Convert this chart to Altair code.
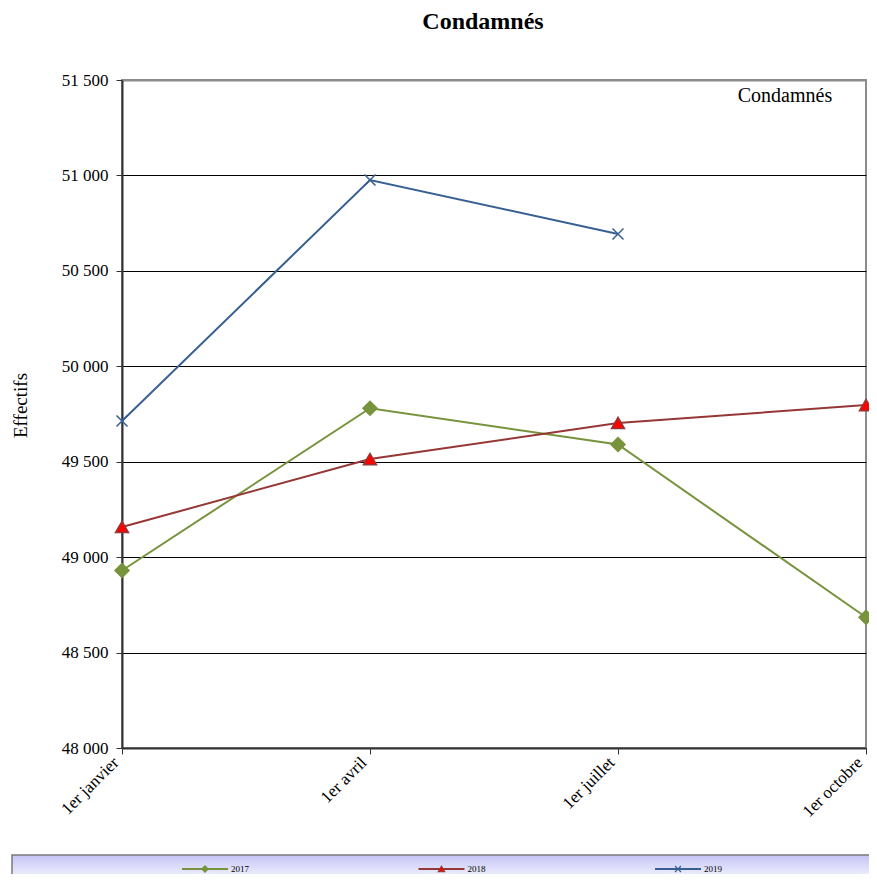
import altair as alt
import pandas as pd

months = ["1er janvier", "1er avril", "1er juillet", "1er octobre"]
years = ["2017", "2018", "2019"]
v2017 = [48930, 49780, 49590, 48685]
v2018 = [49158, 49514, 49703, 49797]
v2019 = [49713, 50976, 50693, None]
y_ticks = [48000, 48500, 49000, 49500, 50000, 50500, 51000, 51500]

line_colors = ["#77933c", "#953735", "#376092"]
fill_colors = ["#77933c", "#ff0000", "transparent"]
shapes = ["diamond", "triangle-up", "M-1,-1L1,1M-1,1L1,-1"]
sizes = [196, 169, 121]
legend_sizes = [40, 40, 36]

rows = []
for yr, vals in zip(years, [v2017, v2018, v2019]):
    for m, v in zip(months, vals):
        if v is not None:
            rows.append({"mois": m, "annee": yr, "valeur": v})
df = pd.DataFrame(rows)
legend_df = pd.DataFrame({"annee": years})

FONT = "Liberation Serif"

color_scale = alt.Scale(domain=years, range=line_colors)

base = alt.Chart(df).encode(
    x=alt.X("mois:N", sort=months, title=None,
            scale=alt.Scale(type="point", padding=0),
            axis=alt.Axis(labelAngle=315, labelAlign="right", labelBaseline="bottom",
                          labelFont=FONT, labelFontSize=17, labelColor="black",
                          labelPadding=12, tickSize=6, tickColor="#333",
                          domainColor="#333", domainWidth=2, grid=False)),
    y=alt.Y("valeur:Q", title="Effectifs",
            scale=alt.Scale(domain=[48000, 51500], nice=False, zero=False),
            axis=alt.Axis(values=y_ticks,
                          labelExpr="replace(format(datum.value, ','), ',', ' ')",
                          labelFont=FONT, labelFontSize=17, labelColor="black",
                          labelPadding=8, tickSize=6, tickColor="#333",
                          domainColor="#333", domainWidth=2,
                          grid=True,
                          gridColor={"condition": {"test": "datum.value === 51500", "value": "#8c8c8c"}, "value": "black"},
                          gridWidth={"condition": {"test": "datum.value === 51500", "value": 2}, "value": 1},
                          titleFont=FONT, titleFontSize=19, titleFontWeight="normal",
                          titleColor="black", titleAngle=270, titleX=-102, titleY=325,
                          titleAlign="center", titleBaseline="middle")),
)

lines = base.mark_line(strokeWidth=2).encode(
    color=alt.Color("annee:N", scale=color_scale, legend=None)
)

layers = [lines]
for i, yr in enumerate(years):
    layers.append(
        base.transform_filter(alt.datum.annee == yr).mark_point(
            shape=shapes[i], size=sizes[i], fill=fill_colors[i],
            stroke=line_colors[i], strokeWidth=1.5, opacity=1, fillOpacity=1)
    )

label = alt.Chart(pd.DataFrame({"t": ["Condamnés"]})).mark_text(
    font=FONT, fontSize=20, color="black", align="center", baseline="middle"
).encode(x=alt.value(663), y=alt.value(16), text="t:N")

main = alt.layer(*layers, label)

# legend box
legend_box = alt.Chart(pd.DataFrame({"a": [0]})).mark_rect(
    fill=alt.Gradient(gradient="linear", x1=0, y1=0, x2=0, y2=1,
                      stops=[alt.GradientStop(offset=0, color="#c4c4f5"),
                             alt.GradientStop(offset=0.6, color="#f5f5ff"),
                             alt.GradientStop(offset=1, color="#dcdcfa")]),
    stroke="#7a7a7a", strokeWidth=1.5
).encode(x=alt.value(-110), x2=alt.value(770), y=alt.value(775), y2=alt.value(815))

leg_x = alt.X("annee:N", scale=alt.Scale(type="point", domain=years, range=[83, 556], padding=0), axis=None)
leg_base = alt.Chart(legend_df).encode(x=leg_x, y=alt.value(789))
leg_lines = leg_base.mark_point(shape="M-1,0L1,0", size=2116, filled=False, strokeWidth=2, opacity=1).encode(
    stroke=alt.Stroke("annee:N", scale=alt.Scale(domain=years, range=line_colors), legend=None))
leg_marks = []
for i, yr in enumerate(years):
    leg_marks.append(
        leg_base.transform_filter(alt.datum.annee == yr).mark_point(
            shape=shapes[i], size=legend_sizes[i], fill=fill_colors[i],
            stroke=line_colors[i], strokeWidth=1.2, opacity=1, fillOpacity=1)
    )
leg_text = leg_base.mark_text(align="left", baseline="middle", dx=26, font=FONT, fontSize=9, color="black").encode(
    text="annee:N")

legend = alt.layer(legend_box, leg_lines, *leg_marks, leg_text)

chart = alt.layer(main, legend).resolve_scale(x="independent").properties(
    width=744, height=668,
    autosize=alt.AutoSizeParams(type="none"),
    padding={"left": 114, "top": 72, "right": 3, "bottom": 126},
    title=alt.TitleParams("Condamnés", font=FONT, fontSize=24, fontWeight="bold",
                          color="black", anchor="middle", dx=-11, offset=37),
).configure_view(stroke="#8c8c8c", strokeWidth=2)

chart.save("out.html", embed_options={"renderer": "svg", "actions": False})
